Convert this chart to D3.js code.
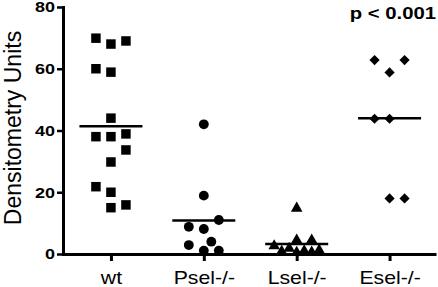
<!DOCTYPE html>
<html>
<head>
<meta charset="utf-8">
<script src="https://cdn.jsdelivr.net/npm/d3@7/dist/d3.min.js"></script>
<style>
  body { margin: 0; background: #fff; }
  svg { display: block; font-family: "Liberation Sans", Arial, sans-serif; }
</style>
</head>
<body>
<svg id="chart" width="438" height="287"></svg>
<script>
// values
var groups = ["wt", "Psel-/-", "Lsel-/-", "Esel-/-"];
var wtValues = [69.9, 68.0, 69.0, 60.0, 58.9, 44.0, 38.0, 38.0, 38.9, 33.7, 29.8, 21.8, 20.0, 15.0, 15.9];
var pselValues = [42.0, 18.9, 11.0, 8.8, 8.1, 4.0, 2.9, 1.1, 1.1];
var lselValues = [14.8, 4.5, 4.5, 2.6, 1.8, 1.2, 1.0, 0.8, 0.6, 0.5];
var eselValues = [62.8, 62.8, 58.8, 43.8, 43.8, 18.0, 18.0];
var yTicks = [0, 20, 40, 60, 80];
var pLabel = "p < 0.001";
var yTitle = "Densitometry Units";

var svg = d3.select("#chart");

var y = d3.scaleLinear().domain([0, 80]).range([254, 7]);
var x = d3.scalePoint().domain(groups).range([64.5, 436]).padding(0.5);

var series = [
  { group: "wt", values: wtValues, shape: d3.symbolSquare, size: 90, rotate: 0 },
  { group: "Psel-/-", values: pselValues, shape: d3.symbolCircle, size: 76, rotate: 0 },
  { group: "Lsel-/-", values: lselValues, shape: d3.symbolTriangle, size: 58, rotate: 0 },
  { group: "Esel-/-", values: eselValues, shape: d3.symbolSquare, size: 52, rotate: 45 }
];

// spread points that would overlap sideways, like the scatter columns of the original
function dodge(values, step, minDist) {
  var order = d3.range(values.length).sort(function (a, b) { return values[a] - values[b]; });
  var placed = [];
  var offsets = new Array(values.length);
  var side = 1;
  order.forEach(function (i) {
    var py = y(values[i]);
    function nearest(dx) {
      var m = Infinity;
      placed.forEach(function (p) { m = Math.min(m, Math.hypot(p.dx - dx, p.y - py)); });
      return m;
    }
    var tries = [0, side * step, -side * step, side * step / 2, -side * step / 2];
    var dx = tries.find(function (t) { return nearest(t) >= minDist; });
    if (dx === undefined) {
      var best = -1;
      [0, 0.5, -0.5, 1, -1, 1.5, -1.5].forEach(function (k) {
        var d = nearest(k * step);
        if (d > best) { best = d; dx = k * step; }
      });
    }
    if (dx !== 0) side = dx > 0 ? -1 : 1;
    placed.push({ dx: dx, y: py });
    offsets[i] = dx;
  });
  return offsets;
}

// y axis
var yAxis = svg.append("g")
  .attr("transform", "translate(63,0)")
  .call(d3.axisLeft(y).tickValues(yTicks).tickSize(6).tickSizeOuter(0));
yAxis.select(".domain").attr("stroke-width", 3).attr("stroke-linecap", "square");
yAxis.selectAll(".tick line").attr("stroke-width", 2.5);
yAxis.selectAll(".tick text")
  .attr("x", 0)
  .attr("transform", "translate(-8,0) scale(1.2,1)")
  .attr("font-family", "Liberation Sans, Arial, sans-serif")
  .attr("font-weight", "bold")
  .attr("font-size", 15)
  .attr("fill", "#000");

// x axis
var xAxis = svg.append("g")
  .attr("transform", "translate(0,254)")
  .call(d3.axisBottom(x).tickSize(7).tickSizeOuter(0));
xAxis.select(".domain").attr("stroke-width", 3);
xAxis.selectAll(".tick line").attr("stroke-width", 3);
xAxis.selectAll(".tick text")
  .attr("y", 30)
  .attr("dy", null)
  .attr("transform", "scale(1.18,1)")
  .attr("font-family", "Liberation Sans, Arial, sans-serif")
  .attr("font-size", 18)
  .attr("fill", "#000");

// markers and mean lines
series.forEach(function (s) {
  var offs = dodge(s.values, 15, 13.5);
  var cx = x(s.group);
  svg.append("g").selectAll("path")
    .data(s.values)
    .enter()
    .append("path")
    .attr("d", d3.symbol().type(s.shape).size(s.size))
    .attr("transform", function (d, i) {
      return "translate(" + (cx + offs[i]) + "," + y(d) + ") rotate(" + s.rotate + ")";
    })
    .attr("fill", "#000");

  var mean = d3.mean(s.values);
  svg.append("line")
    .attr("x1", cx - 31.5)
    .attr("x2", cx + 31.5)
    .attr("y1", y(mean))
    .attr("y2", y(mean))
    .attr("stroke", "#000")
    .attr("stroke-width", 2.5);
});

// axis title
svg.append("text")
  .attr("transform", "translate(21,128) rotate(-90)")
  .attr("text-anchor", "middle")
  .attr("font-size", 23)
  .attr("fill", "#000")
  .text(yTitle);

svg.append("text")
  .attr("text-anchor", "end")
  .attr("transform", "translate(436,19) scale(1.27,1)")
  .attr("font-weight", "bold")
  .attr("font-size", 16)
  .attr("fill", "#000")
  .text(pLabel);
</script>
</body>
</html>
